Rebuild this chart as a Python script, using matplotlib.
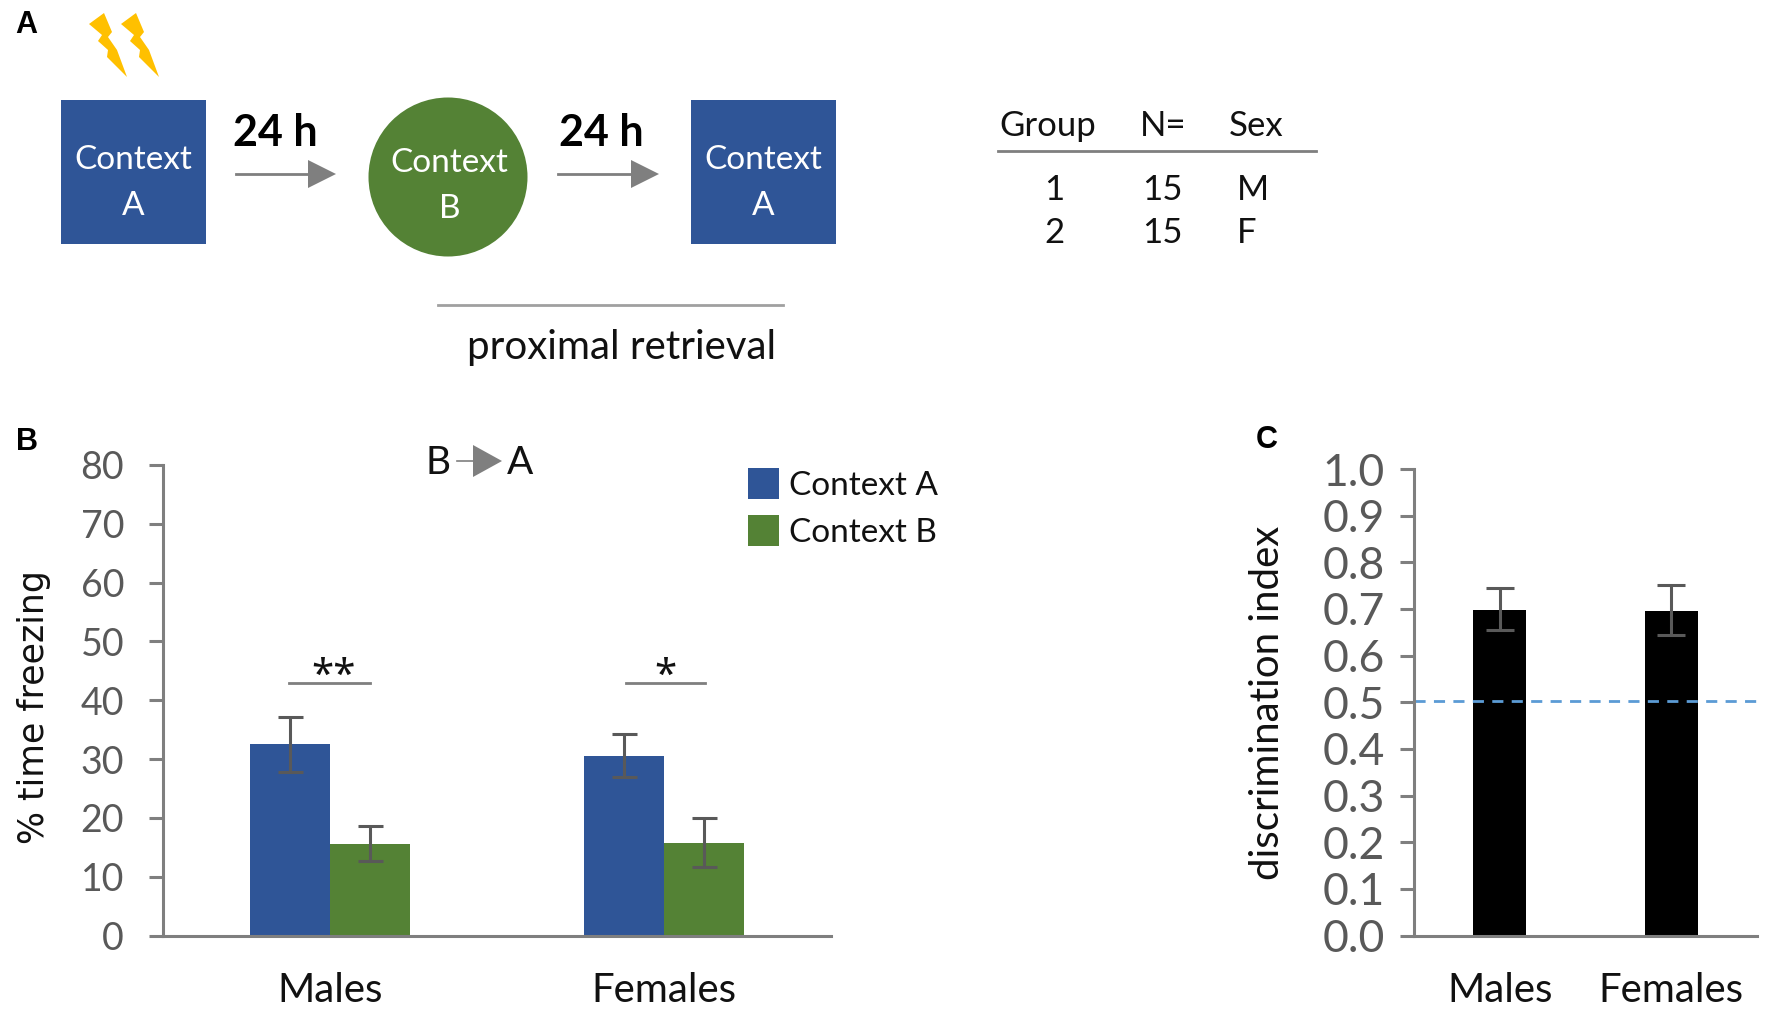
import matplotlib
matplotlib.use('Agg')
import matplotlib.pyplot as plt
from matplotlib.patches import Rectangle, Circle, Polygon

W, H = 1770, 1009
plt.rcParams['font.family'] = ['Lato', 'DejaVu Sans']

# data
groups = ['Males', 'Females']
context_a = [32.5, 30.5]
context_a_hi = [37.2, 34.2]
context_a_lo = [27.8, 26.9]
context_b = [15.6, 15.8]
context_b_hi = [18.6, 20.0]
context_b_lo = [12.7, 11.7]
freeze_ticks = [0, 10, 20, 30, 40, 50, 60, 70, 80]
disc_index = [0.6985, 0.696]
disc_hi = [0.745, 0.751]
disc_lo = [0.654, 0.645]
disc_ticks = [0.0, 0.1, 0.2, 0.3, 0.4, 0.5, 0.6, 0.7, 0.8, 0.9, 1.0]
chance = 0.503
table_head = ['Group', 'N=', 'Sex']
table_group = ['1', '2']
table_n = ['15', '15']
table_sex = ['M', 'F']

BLUE = '#2F5597'
GREEN = '#548235'
AXC = '#7F7F7F'
TXT = '#595959'
ERR = '#595959'
INK = '#111111'

fig = plt.figure(figsize=(W / 100, H / 100), dpi=100)


def add_axes_px(x0, x1, ytop, ybot):
    return fig.add_axes([x0 / W, 1 - ybot / H, (x1 - x0) / W, (ybot - ytop) / H])


# overlay in pixel coordinates for the schematic
bg = fig.add_axes([0, 0, 1, 1])
bg.set_xlim(0, W)
bg.set_ylim(H, 0)
bg.axis('off')


def arrow(x0, x1, y, head=28, hh=14, lw=2):
    bg.plot([x0, x1 - head], [y, y], color=AXC, lw=lw)
    bg.add_patch(Polygon([(x1 - head, y - hh), (x1, y), (x1 - head, y + hh)], color=AXC, lw=0))


def bolt(dx):
    pts = [(104, 13), (89, 24), (102, 35), (98, 41), (108, 50), (107, 57), (127, 77),
           (117, 50), (108, 37), (112, 32)]
    bg.add_patch(Polygon([(x + dx, y) for x, y in pts], color='#FFC000', lw=0))


def context_box(x0, label):
    bg.add_patch(Rectangle((x0, 100), 145, 144, color=BLUE, lw=0))
    bg.text(x0 + 72, 160, 'Context', color='white', fontsize=24, ha='center', va='center')
    bg.text(x0 + 72, 206, label, color='white', fontsize=24, ha='center', va='center')


bolt(0)
bolt(32)
context_box(61, 'A')
context_box(691, 'A')
bg.add_patch(Circle((448, 177), 79.5, color=GREEN, lw=0))
bg.text(449.5, 163, 'Context', color='white', fontsize=24, ha='center', va='center')
bg.text(449.5, 209, 'B', color='white', fontsize=24, ha='center', va='center')

for x, x0, x1 in [(275, 236, 336), (601, 558, 659)]:
    bg.text(x, 133, '24 h', fontsize=31, fontweight='bold', ha='center', va='center', color='black')
    arrow(x0, x1, 174)

bg.plot([438, 783], [305, 305], color='#A0A0A0', lw=2)
bg.text(622, 348, 'proximal retrieval', fontsize=29, ha='center', va='center', color=INK)

# group table
table_x = [1048, 1163, 1256]
for x, t in zip(table_x, table_head):
    bg.text(x, 126, t, fontsize=25, ha='center', va='center', color=INK)
bg.plot([998, 1316], [151, 151], color=AXC, lw=2)
for row, y in enumerate([190, 233]):
    bg.text(1054, y, table_group[row], fontsize=25, ha='center', va='center', color=INK)
    bg.text(1162, y, table_n[row], fontsize=25, ha='center', va='center', color=INK)
    bg.text(1237, y, table_sex[row], fontsize=25, ha='left', va='center', color=INK)

# panel letters
bg.text(15, 25, 'A', fontsize=22, fontweight='bold', family='Liberation Sans', va='center')
bg.text(16, 442, 'B', fontsize=22, fontweight='bold', family='Liberation Sans', va='center')
bg.text(1256, 440, 'C', fontsize=22, fontweight='bold', family='Liberation Sans', va='center')

# B -> A label and legend of panel B
bg.text(438, 463, 'B', fontsize=28, ha='center', va='center', color=INK)
bg.text(520, 463, 'A', fontsize=28, ha='center', va='center', color=INK)
arrow(457, 502, 461, head=29, hh=16, lw=1.2)
bg.add_patch(Rectangle((747.5, 468), 31, 31, color=BLUE, lw=0))
bg.add_patch(Rectangle((747.5, 515), 31, 31, color=GREEN, lw=0))
bg.text(789, 486, 'Context A', fontsize=24, va='center', color=INK)
bg.text(789, 533, 'Context B', fontsize=24, va='center', color=INK)

# panel B
ax = add_axes_px(163, 831, 465, 935.5)
xpos = [0.5, 1.5]
bw = 0.24
for i in range(2):
    ax.bar(xpos[i] - bw / 2, context_a[i], bw, color=BLUE)
    ax.bar(xpos[i] + bw / 2, context_b[i], bw, color=GREEN)
    ax.errorbar(xpos[i] - bw / 2, context_a[i],
                yerr=[[context_a[i] - context_a_lo[i]], [context_a_hi[i] - context_a[i]]],
                color=ERR, lw=2.2, capsize=9, capthick=2.2)
    ax.errorbar(xpos[i] + bw / 2, context_b[i],
                yerr=[[context_b[i] - context_b_lo[i]], [context_b_hi[i] - context_b[i]]],
                color=ERR, lw=2.2, capsize=9, capthick=2.2)
ax.set_xlim(0, 2)
ax.set_ylim(0, 80)
ax.set_yticks(freeze_ticks)
ax.set_xticks(xpos)
ax.set_xticklabels(groups, fontsize=29, color=INK)
ax.set_ylabel('% time freezing', fontsize=25, color=INK, family='DejaVu Sans')
ax.yaxis.set_label_coords(-0.168, 0.486)

# significance bars, drawn on the overlay
bg.plot([289, 370], [683, 683], color=AXC, lw=2)
bg.plot([626, 705], [683, 683], color=AXC, lw=2)
bg.text(334, 677, '**', fontsize=29, family='Noto Sans', ha='center', va='center', color=INK)
bg.text(665.5, 677, '*', fontsize=29, family='Noto Sans', ha='center', va='center', color=INK)

# panel C
ax2 = add_axes_px(1414, 1757, 469, 935.5)
ax2.bar(xpos, disc_index, 0.307, color='black')
ax2.errorbar(xpos, disc_index,
             yerr=[[v - l for v, l in zip(disc_index, disc_lo)],
                   [h - v for h, v in zip(disc_hi, disc_index)]],
             fmt='none', ecolor=ERR, elinewidth=2.2, capsize=10, capthick=2.2)
ax2.axhline(chance, color='#5B9BD5', lw=2, ls=(0, (4, 3)))
ax2.set_xlim(0, 2)
ax2.set_ylim(0, 1)
ax2.set_yticks(disc_ticks)
ax2.set_yticklabels(['%.1f' % t for t in disc_ticks])
ax2.set_xticks(xpos)
ax2.set_xticklabels(groups, fontsize=29, color=INK)
ax2.set_ylabel('discrimination index', fontsize=29, color=INK)
ax2.yaxis.set_label_coords(-0.374, 0.498)

for a, tick_size, tick_pad in ((ax, 27, 18), (ax2, 32, 11)):
    a.patch.set_alpha(0)
    a.spines['top'].set_visible(False)
    a.spines['right'].set_visible(False)
    a.spines['left'].set_color(AXC)
    a.spines['bottom'].set_color(AXC)
    a.spines['left'].set_linewidth(2.2)
    a.spines['bottom'].set_linewidth(2.2)
    a.tick_params(axis='y', length=10, width=2.2, color=AXC, labelcolor=TXT,
                  labelsize=tick_size, pad=tick_pad)
    a.tick_params(axis='x', length=0, pad=26)

fig.savefig('out.png', dpi=100, facecolor='white')
